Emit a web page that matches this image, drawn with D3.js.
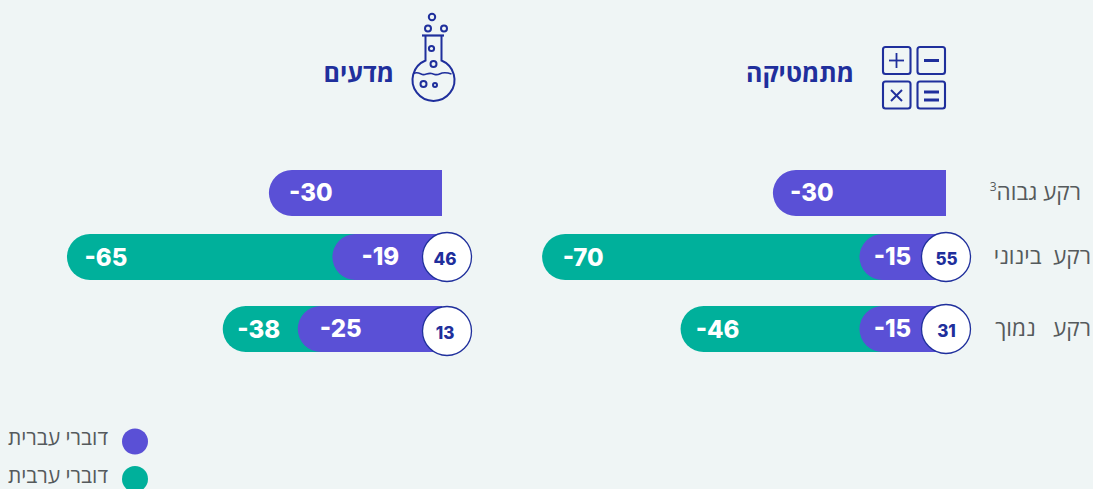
<!DOCTYPE html>
<html lang="he"><head><meta charset="utf-8">
<script src="https://cdnjs.cloudflare.com/ajax/libs/d3/7.8.5/d3.min.js"></script>
<style>
html,body{margin:0;padding:0;background:#eff5f5;overflow:hidden}
svg{display:block}
text{white-space:pre}
.he{font-family:"Open Sans","Noto Sans",sans-serif;direction:rtl}
.num{font-family:Inter,Roboto,sans-serif;font-weight:800}
</style></head><body>
<svg id="c" width="1093" height="489"></svg>
<script>
// ---- data ----
const subjects = ["מתמטיקה", "מדעים"];
const levels = ["רקע גבוה", "רקע  בינוני", "רקע   נמוך"];
const levelNote = ["3", "", ""];
const hebrewMath = [-30, -15, -15];
const arabicMath = [null, -70, -46];
const gapMath = [null, 55, 31];
const hebrewScience = [-30, -19, -25];
const arabicScience = [null, -65, -38];
const gapScience = [null, 46, 13];
const legendLabels = ["דוברי עברית", "דוברי ערבית"];

// ---- style ----
const PURPLE = "#5a50d6", TEAL = "#00b09b", NAVY = "#1f2f9c", GREY = "#555a5c";
const svg = d3.select("#c");
const unit = 5.77;
const xMath = d3.scaleLinear().domain([-100, 0]).range([946 - 100 * unit, 946]);
const xSci = d3.scaleLinear().domain([-100, 0]).range([442 - 100 * unit, 442]);
const y = d3.scaleOrdinal().domain(levels).range([170, 234, 306]);
const barH = 46;

function leftRound(x0, x1, top, h) {
  const r = h / 2, p = d3.path();
  p.moveTo(x1, top); p.lineTo(x0 + r, top);
  p.arc(x0 + r, top + r, r, -Math.PI / 2, Math.PI / 2, true);
  p.lineTo(x1, top + h); p.closePath();
  return p.toString();
}
function panel(x, heb, ara, gap, insetsHeb, insetsAra, bubbleX, bubbleY, bubbleTextX) {
  const g = svg.append("g");
  levels.forEach((lv, i) => {
    if (ara[i] != null) {
      g.append("path").attr("d", leftRound(x(ara[i]), x(0), y(lv), barH)).attr("fill", TEAL);
      g.append("text").attr("class", "num").attr("x", x(ara[i]) + insetsAra[i])
        .attr("y", y(lv) + 32).attr("text-anchor", "middle").attr("fill", "#fff")
        .attr("font-size", 24).text(ara[i]);
    }
    g.append("path").attr("d", leftRound(x(heb[i]), x(0), y(lv), barH)).attr("fill", PURPLE);
    g.append("text").attr("class", "num").attr("x", x(heb[i]) + insetsHeb[i])
      .attr("y", y(lv) + 31).attr("text-anchor", "middle").attr("fill", "#fff")
      .attr("font-size", 24).text(heb[i]);
    if (gap[i] != null) {
      g.append("circle").attr("cx", bubbleX).attr("cy", bubbleY[i]).attr("r", 24.5)
        .attr("fill", "#fff").attr("stroke", NAVY).attr("stroke-width", 1.3);
      g.append("text").attr("class", "num").attr("x", bubbleTextX).attr("y", bubbleY[i] + 8)
        .attr("text-anchor", "middle").attr("fill", NAVY).attr("font-size", 17).text(gap[i]);
    }
  });
}
panel(xMath, hebrewMath, arabicMath, gapMath, [39, 33, 33], [0, 41, 37], 946, [0, 257, 329], 946.5);
panel(xSci, hebrewScience, arabicScience, gapScience, [42, 48, 43], [0, 39, 36], 447, [0, 257, 331], 445);

// row labels
const labelRight = [1081, 1091, 1091];
levels.forEach((lv, i) => {
  const t = svg.append("text").attr("class", "he").attr("x", labelRight[i]).attr("y", y(lv) + 30)
    .attr("text-anchor", "start").attr("fill", GREY).attr("font-size", 22.5).text(lv);
  if (levelNote[i]) t.append("tspan").attr("dy", -9).attr("font-size", 12).text(levelNote[i]);
});

// subject titles
[[854, 0], [394, 1]].forEach(([x, i]) => {
  svg.append("text").attr("class", "he").attr("x", x).attr("y", 82).attr("text-anchor", "start")
    .attr("fill", NAVY).attr("font-weight", 700).attr("font-size", 25).text(subjects[i]);
});

// math icon
const mi = svg.append("g").attr("fill", "none").attr("stroke", NAVY).attr("stroke-width", 2.1);
[[883, 47], [917.5, 47], [883, 81.5], [917.5, 81.5]].forEach(([a, b]) =>
  mi.append("rect").attr("x", a).attr("y", b).attr("width", 27.5).attr("height", 27).attr("rx", 2.5));
const seg = (g, a, b, c, d, w) => g.append("line").attr("x1", a).attr("y1", b).attr("x2", c).attr("y2", d).attr("stroke-width", w);
seg(mi, 889, 60.5, 904, 60.5, 1.8); seg(mi, 896.5, 53, 896.5, 68, 1.8);
seg(mi, 924, 60.5, 939, 60.5, 3);
seg(mi, 891, 90, 902, 101, 2); seg(mi, 902, 90, 891, 101, 2);
seg(mi, 924, 92, 939, 92, 3); seg(mi, 924, 100, 939, 100, 3);

// flask icon
const fi = svg.append("g").attr("fill", "none").attr("stroke", NAVY).attr("stroke-width", 2);
[[432, 17, 3.2], [428, 28.5, 3], [444, 28.5, 3], [431.5, 48.5, 2.6], [433.5, 64, 3], [423.5, 84, 3], [435, 85, 2]].forEach(([a, b, r]) =>
  fi.append("circle").attr("cx", a).attr("cy", b).attr("r", r));
seg(fi, 422, 35.5, 444, 35.5, 2.2);
fi.append("path").attr("d", "M425.5 35.5V60.5A21 21 0 1 0 441.5 60.5V35.5");
fi.append("path").attr("d", "M413.5 73.5c4-2 6 0 9 1s5-2 9-1s5 2 8 .5s6-2 12 0").attr("stroke-width", 1.6);
// legend
[[PURPLE, 441.5, 0], [TEAL, 479, 1]].forEach(([c, cy, i]) => {
  svg.append("circle").attr("cx", 135).attr("cy", cy).attr("r", 13).attr("fill", c);
  svg.append("text").attr("class", "he").attr("x", 108).attr("y", cy + 3.5).attr("text-anchor", "start")
    .attr("fill", GREY).attr("font-size", 21).text(legendLabels[i]);
});
</script></body></html>
